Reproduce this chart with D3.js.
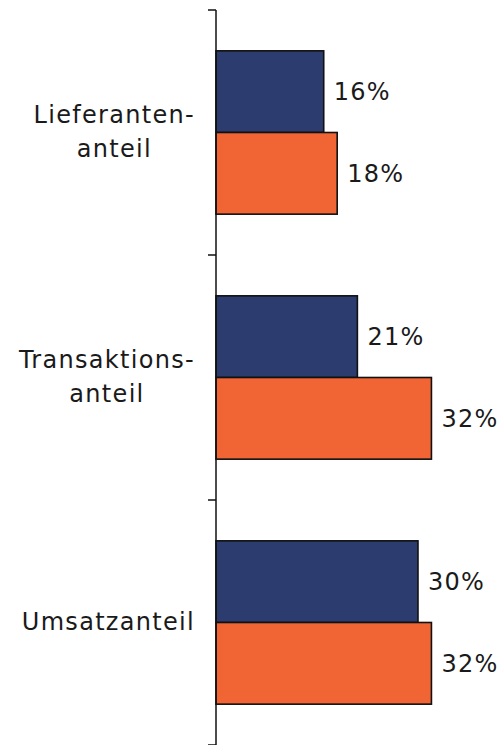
<!DOCTYPE html>
<html><head><meta charset="utf-8">
<script src="https://cdn.jsdelivr.net/npm/d3@7"></script>
<style>
html,body{margin:0;padding:0;background:#fff;}
svg{display:block;}
text{font-family:"DejaVu Sans",Verdana,sans-serif;fill:#1a1a1a;}
</style></head>
<body>
<svg id="chart" width="502" height="745"></svg>
<script>
const categories = ["Lieferanten-anteil", "Transaktions-anteil", "Umsatzanteil"];
const categoryLines = [["Lieferanten-", "anteil"], ["Transaktions-", "anteil"], ["Umsatzanteil"]];
const seriesNames = ["Serie A", "Serie B"];
const seriesA = [16, 21, 30];
const seriesB = [18, 32, 32];
const colors = ["#2C3C6E", "#F16434"];

(function () {
const svg = d3.select("#chart");
const axisX = 216, y0 = 10, y1 = 745;
const fs = 24, ls = 1.3;

const y = d3.scaleBand().domain(categories).range([y0, y1]).padding(0);
const yInner = d3.scaleBand().domain(seriesNames).range([0, y.bandwidth()]).paddingInner(0).paddingOuter(0.5);
const x = d3.scaleLinear().domain([0, 40]).range([axisX, axisX + 269.3]);

const data = categories.map((c, i) => ({cat: c, vals: [seriesA[i], seriesB[i]]}));

const g = svg.append("g");
data.forEach((d) => {
  d.vals.forEach((v, si) => {
    const yy = y(d.cat) + yInner(seriesNames[si]);
    g.append("rect")
      .attr("x", x(0)).attr("y", yy)
      .attr("width", x(v) - x(0)).attr("height", yInner.bandwidth())
      .attr("fill", colors[si]).attr("stroke", "#111").attr("stroke-width", 1.6);
    g.append("text")
      .attr("x", x(v) + 10).attr("y", yy + yInner.bandwidth() / 2)
      .attr("dy", "0.36em")
      .attr("font-size", fs).attr("letter-spacing", ls)
      .text(v + "%");
  });
});

// axis
const ag = svg.append("g").attr("transform", `translate(${axisX},0)`);
ag.append("line").attr("x1", 0).attr("x2", 0).attr("y1", y0).attr("y2", y1)
  .attr("stroke", "#111").attr("stroke-width", 1.5);
const tickYs = categories.map(c => y(c)).concat([y(categories[categories.length - 1]) + y.bandwidth()]);
ag.selectAll("line.tick").data(tickYs).join("line").attr("class", "tick")
  .attr("x1", -8).attr("x2", 0).attr("y1", d => d).attr("y2", d => d)
  .attr("stroke", "#111").attr("stroke-width", 1.5);

// category labels: block right-aligned, lines centered within block
const rightEdge = 195, lineH = 34;
categories.forEach((c, i) => {
  const lines = categoryLines[i];
  const tg = svg.append("g");
  const texts = lines.map(l => tg.append("text").attr("font-size", fs).attr("letter-spacing", ls).text(l));
  const widths = texts.map(t => t.node().getComputedTextLength());
  const maxW = d3.max(widths);
  const cx = rightEdge - maxW / 2;
  const cy = y(c) + y.bandwidth() / 2;
  const n = lines.length;
  texts.forEach((t, k) => {
    t.attr("text-anchor", "middle").attr("x", cx)
     .attr("y", cy + (k - (n - 1) / 2) * lineH - 1).attr("dy", "0.36em");
  });
});
})();
</script>
</body></html>
